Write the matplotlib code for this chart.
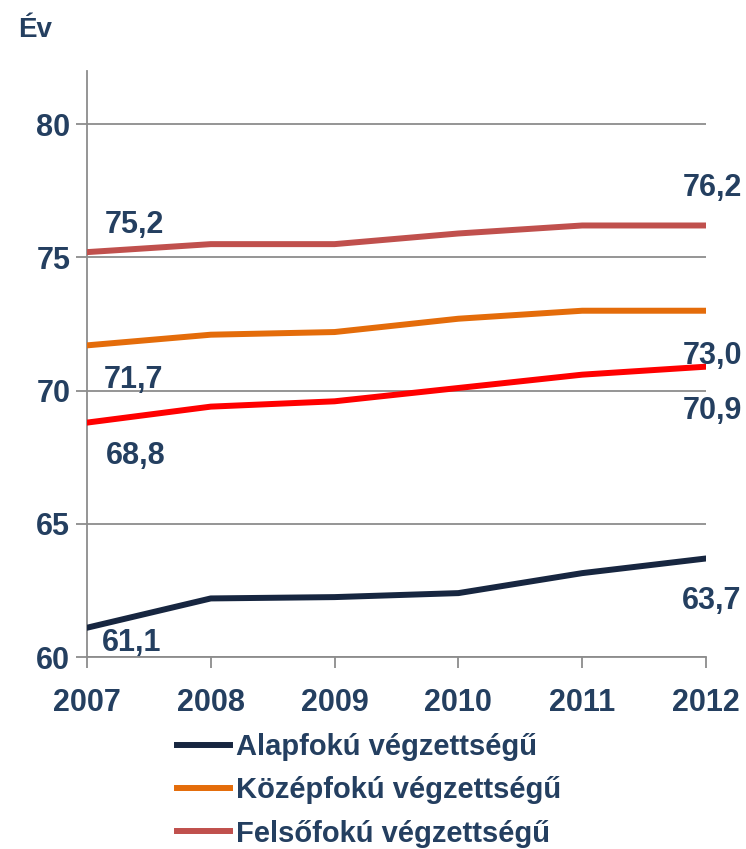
import matplotlib.pyplot as plt
from matplotlib.lines import Line2D

# Adatok
evek = [2007, 2008, 2009, 2010, 2011, 2012]
alapfoku = [61.1, 62.2, 62.25, 62.4, 63.15, 63.7]
kozepfoku = [71.7, 72.1, 72.2, 72.7, 73.0, 73.0]
felsofoku = [75.2, 75.5, 75.5, 75.9, 76.2, 76.2]
osszes = [68.8, 69.4, 69.6, 70.1, 70.6, 70.9]

nevek = ["Alapfokú végzettségű", "Középfokú végzettségű", "Felsőfokú végzettségű"]
szinek = ["#172640", "#E46C0A", "#C0504D", "#FF0000"]
szoveg_szin = "#243F60"

plt.rcParams['font.family'] = ['Liberation Sans', 'DejaVu Sans']
plt.rcParams['font.weight'] = 'bold'

fig = plt.figure(figsize=(7.46, 8.49), dpi=100)
ax = fig.add_axes([0.1166, 0.2261, 0.8298, 0.6903])

sorok = [felsofoku, kozepfoku, alapfoku, osszes]
sor_szinek = [szinek[2], szinek[1], szinek[0], szinek[3]]
for adat, szin in zip(sorok, sor_szinek):
    ax.plot(evek, adat, color=szin, linewidth=4.3, solid_capstyle='round', zorder=3)

# Címkék (első és utolsó év)
def cimke(x, y, dx, dy):
    ax.annotate(f"{y:.1f}".replace(".", ","), (x, y), xytext=(dx, dy),
                textcoords='offset pixels', ha='center', va='center',
                fontsize=22, fontweight='bold', color=szoveg_szin,
                annotation_clip=False, zorder=4)

cimke(evek[0], felsofoku[0], 47, 27)
cimke(evek[-1], felsofoku[-1], 6, 37)
cimke(evek[0], kozepfoku[0], 47, -35)
cimke(evek[-1], kozepfoku[-1], 6, -45)
cimke(evek[0], osszes[0], 49, -33)
cimke(evek[-1], osszes[-1], 6, -44)
cimke(evek[0], alapfoku[0], 45, -15)
cimke(evek[-1], round(alapfoku[-1], 1), 6, -43)

ax.set_xlim(2007, 2012)
ax.set_ylim(60, 82)
ax.set_yticks([60, 65, 70, 75, 80])
ax.set_xticks(evek)
ax.yaxis.grid(True, color='#8C8C8C', linewidth=1.3, zorder=0)
ax.set_axisbelow(True)

for s in ['top', 'right']:
    ax.spines[s].set_visible(False)
for s in ['left', 'bottom']:
    ax.spines[s].set_color('#8C8C8C')
    ax.spines[s].set_linewidth(1.3)

ax.tick_params(axis='both', colors='#8C8C8C', length=8, width=1.3, pad=4)
ax.tick_params(axis='x', pad=14)
for t in ax.get_xticklabels() + ax.get_yticklabels():
    t.set_color(szoveg_szin)
    t.set_fontsize(22)
    t.set_fontweight('bold')

fig.text(18 / 746, 1 - 30 / 849, "Év", fontsize=20, fontweight='bold',
         color=szoveg_szin, va='center', ha='left')

kezelok = [Line2D([0], [0], color=szinek[i], linewidth=4.3) for i in range(3)]
fig.legend(kezelok, nevek, loc='upper left', bbox_to_anchor=(151 / 746, 1 - 707 / 849),
           frameon=False, handlelength=1.8, handletextpad=0.2,
           labelspacing=0.52, labelcolor=szoveg_szin,
           prop={'weight': 'bold', 'size': 21})

fig.savefig("out.png", dpi=100)
